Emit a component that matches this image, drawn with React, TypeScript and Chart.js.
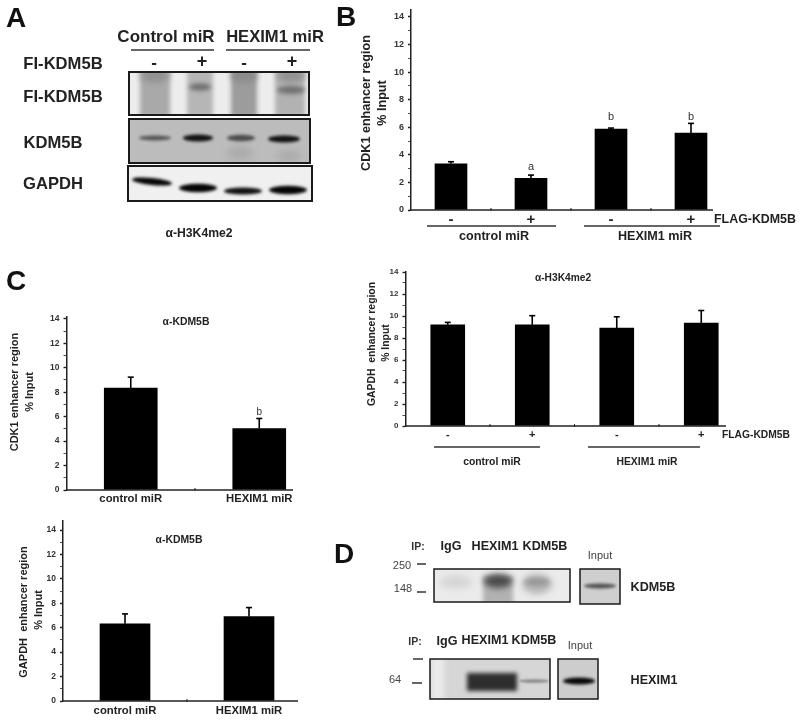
import React, { useEffect, useRef } from "react";
import { Chart, registerables } from "chart.js";

Chart.register(...registerables);

// ---------- data ----------
const flagLabels = ["-", "+", "-", "+"];
const miRLabels = ["control miR", "HEXIM1 miR"];

const cdk1H3K4Values = [3.35, 2.3, 5.87, 5.58];
const cdk1H3K4Upper = [3.5, 2.53, 5.94, 6.28];
const cdk1H3K4Letters = ["", "a", "b", "b"];
const cdk1H3K4LetterAt = [0, 3.14, 6.76, 6.76];

const gapdhH3K4Values = [9.2, 9.2, 8.9, 9.36];
const gapdhH3K4Upper = [9.42, 10.03, 9.93, 10.5];

const cdk1KdmValues = [8.33, 5.03];
const cdk1KdmUpper = [9.23, 5.85];
const cdk1KdmLetters = ["", "b"];
const cdk1KdmLetterAt = [0, 6.39];

const gapdhKdmValues = [6.32, 6.92];
const gapdhKdmUpper = [7.13, 7.65];

// ---------- layout and style ----------
const FONT = '"Liberation Sans", Arial, sans-serif';
const bold = (s: number) => `bold ${s}px ${FONT}`;
const plain = (s: number) => `${s}px ${FONT}`;
const INK = "#222";

type Note = { t: string; x: number; y: number; f: string; rot?: boolean; c?: string };
type Rule = [number, number, number, number];

const panels: any[] = [
  {
    box: [340, 0, 460, 250], left: 411, right: 731, top: 10, bottom: 210, max: 14.5, axisEnd: 713,
    labels: flagLabels, values: cdk1H3K4Values, upper: cdk1H3K4Upper, letters: cdk1H3K4Letters, letterAt: cdk1H3K4LetterAt,
    bar: 32, tickFont: 9, xFont: 15, xPad: 1, letterFont: 11,
    notes: [
      { t: "CDK1 enhancer region", x: 367, y: 103, f: bold(12.6), rot: true },
      { t: "% Input", x: 383, y: 103, f: bold(12.6), rot: true },
      { t: "FLAG-KDM5B", x: 755, y: 220, f: bold(12.4) },
      { t: "control miR", x: 494, y: 237, f: bold(12.6) },
      { t: "HEXIM1 miR", x: 655, y: 237, f: bold(12.6) },
    ] as Note[],
    rules: [[427, 226, 556, 226], [584, 226, 720, 226]] as Rule[],
  },
  {
    box: [360, 262, 440, 218], left: 405.5, right: 743.5, top: 272, bottom: 426, max: 14, axisEnd: 726,
    labels: flagLabels, values: gapdhH3K4Values, upper: gapdhH3K4Upper,
    bar: 34, tickFont: 8, xFont: 11, xPad: 2, letterFont: 10,
    notes: [
      { t: "GAPDH  enhancer region", x: 372, y: 344, f: bold(10.4), rot: true },
      { t: "% Input", x: 386, y: 343, f: bold(10.4), rot: true },
      { t: "α-H3K4me2", x: 563, y: 278, f: bold(10.2) },
      { t: "FLAG-KDM5B", x: 756, y: 435, f: bold(10.3) },
      { t: "control miR", x: 492, y: 462, f: bold(10.4) },
      { t: "HEXIM1 miR", x: 647, y: 462, f: bold(10.4) },
    ] as Note[],
    rules: [[434, 447, 540, 447], [588, 447, 700, 447]] as Rule[],
  },
  {
    box: [0, 300, 340, 210], left: 66.5, right: 323.5, top: 317, bottom: 490, max: 14.15, axisEnd: 293,
    labels: miRLabels, values: cdk1KdmValues, upper: cdk1KdmUpper, letters: cdk1KdmLetters, letterAt: cdk1KdmLetterAt,
    bar: 53, tickFont: 8.5, xFont: 11.3, xPad: 2, letterFont: 10,
    notes: [
      { t: "CDK1 enhancer region", x: 15, y: 392, f: bold(11), rot: true },
      { t: "% Input", x: 30, y: 392, f: bold(11), rot: true },
      { t: "α-KDM5B", x: 186, y: 322, f: bold(10.4) },
    ] as Note[],
    rules: [] as Rule[],
  },
  {
    box: [0, 512, 340, 210], left: 63, right: 311, top: 520, bottom: 701, max: 14.73, axisEnd: 298,
    labels: miRLabels, values: gapdhKdmValues, upper: gapdhKdmUpper,
    bar: 50, tickFont: 8.5, xFont: 11.3, xPad: 3, letterFont: 10,
    notes: [
      { t: "GAPDH  enhancer region", x: 24, y: 612, f: bold(11), rot: true },
      { t: "% Input", x: 39, y: 610, f: bold(11), rot: true },
      { t: "α-KDM5B", x: 179, y: 540, f: bold(10.4) },
    ] as Note[],
    rules: [] as Rule[],
  },
];

// Western blot panels (image areas, not chart marks)
type Smear = [number, number, number, number, string, number, number?, boolean?];
const blots: { r: number[]; bg: string; s: Smear[]; bw: number }[] = [
  {
    r: [129, 72, 180, 43], bg: "#ededed", bw: 2,
    s: [
      [155, 93, 15, 24, "#a9a9a9", 2, 0, true], [200, 93, 13, 24, "#b6b6b6", 2, 0, true],
      [244, 93, 13, 24, "#9c9c9c", 2, 0, true], [290, 93, 15, 24, "#b2b2b2", 2, 0, true],
      [155, 76, 14, 6, "#8f8f8f", 3], [244, 76, 13, 6, "#8a8a8a", 3], [291, 76, 14, 6, "#8f8f8f", 3],
      [200, 87, 11, 3.5, "#6c6c6c", 2], [291, 90, 14, 4, "#707070", 2],
    ],
  },
  {
    r: [129, 119, 181, 44], bg: "#bcbcbc", bw: 2,
    s: [
      [240, 153, 13, 7, "#acacac", 3], [289, 156, 12, 6, "#acacac", 3],
      [155, 138, 16, 2.4, "#555", 1.4], [198, 138, 15, 3.4, "#111", 1.6],
      [241, 138, 14, 3.2, "#4c4c4c", 1.6], [284, 139, 16, 3.4, "#111", 1.6],
    ],
  },
  {
    r: [128, 166, 184, 35], bg: "#f0f0f0", bw: 2,
    s: [
      [152, 181.5, 20, 3.6, "#050505", 1.4, 0.1], [198, 188, 19, 4.2, "#050505", 1.6],
      [243, 191, 19, 3.6, "#111", 1.6], [288, 190, 19, 4.2, "#050505", 1.6],
    ],
  },
  {
    r: [434, 569, 136, 33], bg: "#ebebeb", bw: 1.5,
    s: [
      [456, 582, 16, 7, "#d6d6d6", 3], [498, 590, 15, 14, "#b2b2b2", 2, 0, true],
      [498, 581, 14, 7, "#4a4a4a", 3], [537, 584, 15, 10, "#b6b6b6", 3], [537, 582, 12, 4, "#999", 2],
    ],
  },
  {
    r: [580, 569, 40, 35], bg: "#cfcfcf", bw: 1.5,
    s: [[600, 586, 16, 2.4, "#505050", 1.4]],
  },
  {
    r: [430, 659, 120, 40], bg: "#d6d6d6", bw: 1.5,
    s: [
      [438, 680, 6, 24, "#ececec", 3, 0, true],
      [492, 682, 25, 9, "#2e2e2e", 2, 0, true], [534, 681, 15, 1.8, "#888", 1.2],
    ],
  },
  {
    r: [558, 659, 40, 40], bg: "#cdcdcd", bw: 1.5,
    s: [[579, 681, 16, 3.6, "#080808", 1.6]],
  },
];

const sheetTexts: Note[] = [
  { t: "A", x: 16, y: 19, f: bold(28), c: "#111" },
  { t: "B", x: 346, y: 18, f: bold(28), c: "#111" },
  { t: "C", x: 16, y: 282, f: bold(28), c: "#111" },
  { t: "D", x: 344, y: 555, f: bold(28), c: "#111" },
  { t: "Control miR", x: 166, y: 37, f: bold(17) },
  { t: "HEXIM1 miR", x: 275, y: 37, f: bold(16.6) },
  { t: "FI-KDM5B", x: 63, y: 64, f: bold(16.6) },
  { t: "FI-KDM5B", x: 63, y: 97, f: bold(16.6) },
  { t: "KDM5B", x: 53, y: 143, f: bold(16.6) },
  { t: "GAPDH", x: 53, y: 184, f: bold(16.6) },
  { t: "-", x: 154, y: 63, f: bold(17) },
  { t: "+", x: 202, y: 62, f: bold(18) },
  { t: "-", x: 244, y: 63, f: bold(17) },
  { t: "+", x: 292, y: 62, f: bold(18) },
  { t: "α-H3K4me2", x: 199, y: 234, f: bold(12.2) },
  { t: "IP:", x: 418, y: 547, f: bold(10.5), c: "#333" },
  { t: "IgG", x: 451, y: 547, f: bold(12.6) },
  { t: "HEXIM1", x: 495, y: 547, f: bold(12.6) },
  { t: "KDM5B", x: 545, y: 547, f: bold(12.6) },
  { t: "Input", x: 600, y: 556, f: plain(11), c: "#444" },
  { t: "250", x: 402, y: 566, f: plain(11), c: "#444" },
  { t: "148", x: 403, y: 589, f: plain(11), c: "#444" },
  { t: "KDM5B", x: 653, y: 588, f: bold(12.6) },
  { t: "IP:", x: 415, y: 642, f: bold(10.5), c: "#333" },
  { t: "IgG", x: 447, y: 642, f: bold(12.6) },
  { t: "HEXIM1", x: 485, y: 641, f: bold(12.6) },
  { t: "KDM5B", x: 534, y: 641, f: bold(12.6) },
  { t: "Input", x: 580, y: 646, f: plain(11), c: "#444" },
  { t: "64", x: 395, y: 680, f: plain(11), c: "#444" },
  { t: "HEXIM1", x: 654, y: 681, f: bold(12.6) },
];

const sheetRules: Rule[] = [
  [131, 50, 214, 50], [226, 50, 310, 50],
  [417, 564, 426, 564], [417, 592, 426, 592],
  [413, 659, 423, 659], [412, 683, 422, 683],
];

function drawNote(ctx: CanvasRenderingContext2D, n: Note) {
  ctx.save();
  ctx.translate(n.x, n.y);
  if (n.rot) ctx.rotate(-Math.PI / 2);
  ctx.font = n.f;
  ctx.fillStyle = n.c || INK;
  ctx.textAlign = "center";
  ctx.textBaseline = "middle";
  ctx.fillText(n.t, 0, 0);
  ctx.restore();
}

function drawSheet(ctx: CanvasRenderingContext2D) {
  ctx.fillStyle = "#fff";
  ctx.fillRect(0, 0, 800, 722);
  blots.forEach((b) => {
    const [x, y, w, h] = b.r;
    ctx.save();
    ctx.beginPath();
    ctx.rect(x, y, w, h);
    ctx.clip();
    ctx.fillStyle = b.bg;
    ctx.fillRect(x, y, w, h);
    b.s.forEach(([cx, cy, rx, ry, color, blur, rot, isRect]) => {
      ctx.save();
      ctx.filter = `blur(${blur}px)`;
      ctx.fillStyle = color;
      ctx.beginPath();
      if (isRect) ctx.rect(cx - rx, cy - ry, rx * 2, ry * 2);
      else ctx.ellipse(cx, cy, rx, ry, rot || 0, 0, Math.PI * 2);
      ctx.fill();
      ctx.restore();
    });
    ctx.restore();
    ctx.strokeStyle = "#1a1a1a";
    ctx.lineWidth = b.bw;
    ctx.strokeRect(x, y, w, h);
  });
  ctx.strokeStyle = "#333";
  ctx.lineWidth = 1.5;
  sheetRules.forEach(([a, b, c, d]) => {
    ctx.beginPath();
    ctx.moveTo(a, b);
    ctx.lineTo(c, d);
    ctx.stroke();
  });
  sheetTexts.forEach((n) => drawNote(ctx, n));
}

const extras = {
  id: "extras",
  afterDraw(chart: any, _a: any, o: any) {
    const p = o.panel;
    const ctx: CanvasRenderingContext2D = chart.ctx;
    const xs = chart.scales.x;
    const ys = chart.scales.y;
    ctx.save();
    // x axis line, stopping short of the last category edge, with its ticks
    ctx.strokeStyle = INK;
    ctx.lineWidth = 1.5;
    const y0 = ys.getPixelForValue(0);
    const ax0 = p.left - p.box[0];
    ctx.beginPath();
    ctx.moveTo(ax0, y0);
    ctx.lineTo(p.axisEnd - p.box[0], y0);
    ctx.stroke();
    ctx.lineWidth = 1;
    for (let i = 0; i < p.labels.length - 1; i++) {
      const tx = (xs.getPixelForValue(i) + xs.getPixelForValue(i + 1)) / 2;
      ctx.beginPath();
      ctx.moveTo(tx, y0 - 2);
      ctx.lineTo(tx, y0 + 1);
      ctx.stroke();
    }
    // upper error bars
    ctx.strokeStyle = "#000";
    p.upper.forEach((u: number, i: number) => {
      const x = xs.getPixelForValue(i);
      const yu = ys.getPixelForValue(u);
      const yb = ys.getPixelForValue(p.values[i]);
      ctx.lineWidth = 1.6;
      ctx.beginPath();
      ctx.moveTo(x, yb);
      ctx.lineTo(x, yu);
      ctx.stroke();
      ctx.beginPath();
      ctx.moveTo(x - 3, yu);
      ctx.lineTo(x + 3, yu);
      ctx.stroke();
    });
    // significance letters
    (p.letters || []).forEach((l: string, i: number) => {
      if (!l) return;
      ctx.font = plain(p.letterFont);
      ctx.fillStyle = "#333";
      ctx.textAlign = "center";
      ctx.textBaseline = "middle";
      ctx.fillText(l, xs.getPixelForValue(i), ys.getPixelForValue(p.letterAt[i]));
    });
    // page-placed notes and rules
    ctx.translate(-p.box[0], -p.box[1]);
    ctx.strokeStyle = "#333";
    ctx.lineWidth = 1.5;
    p.rules.forEach(([a, b, c, d]: Rule) => {
      ctx.beginPath();
      ctx.moveTo(a, b);
      ctx.lineTo(c, d);
      ctx.stroke();
    });
    p.notes.forEach((n: Note) => drawNote(ctx, n));
    ctx.restore();
  },
};

function makeChart(canvas: HTMLCanvasElement, p: any) {
  const [bx, by, bw, bh] = p.box;
  const yWidth = 30;
  const xHeight = 20;
  return new Chart(canvas, {
    type: "bar",
    plugins: [extras],
    data: {
      labels: p.labels,
      datasets: [{ data: p.values, backgroundColor: "#000", borderWidth: 0, barThickness: p.bar }],
    },
    options: {
      animation: false,
      responsive: false,
      devicePixelRatio: 1,
      layout: {
        autoPadding: false,
        padding: {
          left: p.left - bx - yWidth,
          right: bx + bw - p.right,
          top: p.top - by,
          bottom: by + bh - p.bottom - xHeight,
        },
      },
      plugins: { legend: { display: false }, tooltip: { enabled: false }, extras: { panel: p } },
      scales: {
        x: {
          type: "category",
          offset: true,
          border: { display: false },
          grid: { display: false, drawTicks: false },
          afterFit: (s: any) => { s.height = xHeight; },
          ticks: {
            autoSkip: false, maxRotation: 0, minRotation: 0, padding: p.xPad, color: INK,
            font: { family: FONT, size: p.xFont, weight: "bold" },
          },
        },
        y: {
          min: 0,
          max: p.max,
          afterFit: (s: any) => { s.width = yWidth; },
          border: { display: true, color: INK, width: 1.5 },
          grid: {
            drawOnChartArea: false, drawTicks: true, tickLength: 3, tickColor: INK,
            tickWidth: (c: any) => (c.tick && c.tick.value % 2 === 0 ? 1.4 : 0.8),
          },
          ticks: {
            stepSize: 1, includeBounds: false, autoSkip: false, padding: 4, color: "#333",
            font: { family: FONT, size: p.tickFont, weight: "bold" },
            callback: (v: any) => (Number(v) % 2 === 0 ? String(v) : ""),
          },
        },
      },
    } as any,
  } as any);
}

export default function App() {
  const sheet = useRef<HTMLCanvasElement>(null);
  const refs = useRef<(HTMLCanvasElement | null)[]>([]);
  useEffect(() => {
    const ctx = sheet.current!.getContext("2d")!;
    drawSheet(ctx);
    const charts = panels.map((p, i) => makeChart(refs.current[i]!, p));
    return () => charts.forEach((c) => c.destroy());
  }, []);
  return (
    <div style={{ position: "absolute", left: 0, top: 0, width: 800, height: 722, background: "#fff", overflow: "hidden", filter: "blur(0.6px)" }}>
      <canvas ref={sheet} width={800} height={722} style={{ position: "absolute", left: 0, top: 0, display: "block" }} />
      {panels.map((p, i) => (
        <canvas
          key={i}
          ref={(el) => { refs.current[i] = el; }}
          width={p.box[2]}
          height={p.box[3]}
          style={{ position: "absolute", left: p.box[0], top: p.box[1], width: p.box[2], height: p.box[3], display: "block" }}
        />
      ))}
    </div>
  );
}
